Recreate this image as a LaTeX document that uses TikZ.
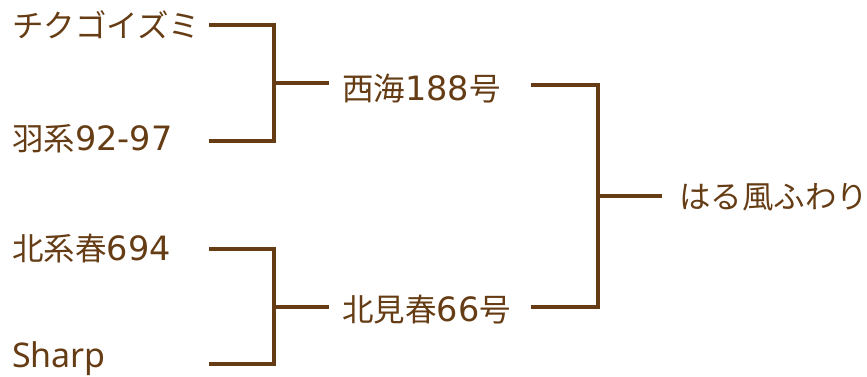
\documentclass[tikz,border=0pt]{standalone}
\usepackage{fontspec}
\setmainfont{Noto Sans CJK JP}
\newfontfamily\latf{Noto Sans}
\newfontfamily\digf{DejaVu Sans}
\newcommand{\dg}[1]{{\digf\fontsize{33.5}{33.5}\selectfont #1}}
\newcommand{\lt}[1]{{\latf\fontsize{34}{34}\selectfont #1}}
\definecolor{brn}{HTML}{653C14}
\begin{document}
\begin{tikzpicture}[x=1pt,y=-1pt,
  lbl/.style={anchor=base west,inner sep=0pt,text=brn,font=\fontsize{31.5}{31.5}\selectfont},
  ln/.style={draw=brn,line width=3.2pt}]
\useasboundingbox (0,0) rectangle (867,376);
\node[lbl] (a) at (12,37) {チクゴイズミ};
\node[lbl] (b) at (12,150) {羽系\dg{92-97}};
\node[lbl] (c) at (12,260) {北系春\dg{694}};
\node[lbl] (d) at (12,367) {\lt{Sharp}};
\node[lbl] (e) at (342,100) {西海\dg{188}号};
\node[lbl] (f) at (342,321) {北見春\dg{66}号};
\node[lbl] (g) at (679,208) {はる風ふわり};
\coordinate (a1) at (209,25);
\coordinate (b1) at (209,141);
\coordinate (c1) at (209,249);
\coordinate (d1) at (209,364);
\coordinate (e0) at (329,83);
\coordinate (f0) at (329,307);
\coordinate (e1) at (531,85);
\coordinate (f1) at (531,307);
\coordinate (g0) at (662,196);
\draw[ln] (a1) -| (274,141) -- (b1);
\draw[ln] (274,83) -- (e0);
\draw[ln] (c1) -| (274,364) -- (d1);
\draw[ln] (274,307) -- (f0);
\draw[ln] (e1) -| (598,307) -- (f1);
\draw[ln] (598,196) -- (g0);
\end{tikzpicture}
\end{document}
